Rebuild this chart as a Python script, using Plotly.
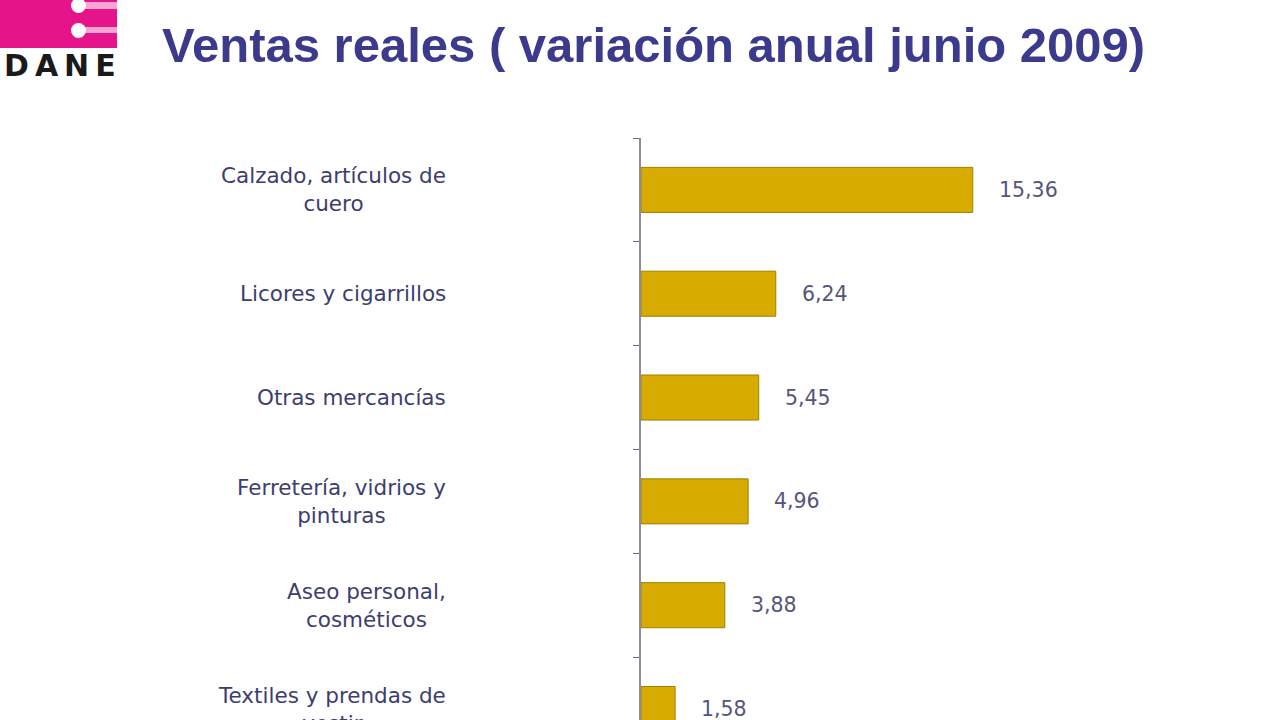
import plotly.graph_objects as go

# ---- data ----
categories = [
    "Calzado, artículos de<br>cuero",
    "Licores y cigarrillos",
    "Otras mercancías",
    "Ferretería, vidrios y<br>pinturas",
    "Aseo personal,<br>cosméticos",
    "Textiles y prendas de<br>vestir",
]
values = [15.36, 6.24, 5.45, 4.96, 3.88, 1.58]
title_text = "Ventas reales ( variación anual junio 2009)"
logo_text = "D\u2009A\u2009N\u2009E"

W, H = 1280, 720
ML, MR, MT, MB = 641, 39, 138, 0
PW, PH = W - ML - MR, H - MT - MB


def px2x(px):
    return (px - ML) / PW


def py2y(py):
    return (H - MB - py) / PH


fig = go.Figure()
fig.add_trace(go.Bar(
    x=values, y=categories, orientation="h",
    marker=dict(color="#d8ab00", line=dict(color="#a08000", width=1)),
    hoverinfo="x+y", showlegend=False,
))

annotations = []
# category labels (centre-aligned multi-line, right edge near x=447px)
for c in categories:
    annotations.append(dict(
        x=px2x(448), xref="paper", y=c, yref="y", text=c, showarrow=False,
        xanchor="right", yanchor="middle", align="center",
        font=dict(family="DejaVu Sans, Verdana, sans-serif", size=21.5, color="#3d3d70"),
    ))
# value labels
for c, v in zip(categories, values):
    annotations.append(dict(
        x=v, xref="x", y=c, yref="y", text=f"{v:.2f}".replace(".", ","),
        showarrow=False, xanchor="left", yanchor="middle", xshift=24,
        font=dict(family="DejaVu Sans, Verdana, sans-serif", size=20.5, color="#55557c"),
    ))
# logo text
annotations.append(dict(
    x=px2x(118), xref="paper", y=py2y(65), yref="paper", text=f"<b>{logo_text}</b>",
    showarrow=False, xanchor="right", yanchor="middle",
    font=dict(family="DejaVu Sans, sans-serif", size=30, color="#1a1a1a"),
))

shapes = [
    dict(type="rect", xref="paper", yref="paper", x0=px2x(-2), x1=px2x(117),
         y0=py2y(48), y1=py2y(-2), fillcolor="#e6148a", line=dict(width=0), layer="above"),
    dict(type="rect", xref="paper", yref="paper", x0=px2x(80), x1=px2x(117),
         y0=py2y(9), y1=py2y(2), fillcolor="#f7a6d4", line=dict(width=0), layer="above"),
    dict(type="rect", xref="paper", yref="paper", x0=px2x(80), x1=px2x(117),
         y0=py2y(33), y1=py2y(27), fillcolor="#f7a6d4", line=dict(width=0), layer="above"),
    dict(type="circle", xref="paper", yref="paper", x0=px2x(71), x1=px2x(86),
         y0=py2y(13), y1=py2y(-2), fillcolor="#ffffff", line=dict(width=0), layer="above"),
    dict(type="circle", xref="paper", yref="paper", x0=px2x(71), x1=px2x(86),
         y0=py2y(38), y1=py2y(23), fillcolor="#ffffff", line=dict(width=0), layer="above"),
]

fig.update_layout(
    width=W, height=H,
    margin=dict(l=ML, r=MR, t=MT, b=MB, pad=0),
    paper_bgcolor="#ffffff", plot_bgcolor="#ffffff",
    bargap=0.566,
    title=dict(
        text=f"<b>{title_text}</b>", xref="container", yref="container",
        x=162 / W, xanchor="left", y=1 - 45 / H, yanchor="middle",
        font=dict(family="Liberation Sans, Arial, sans-serif", size=49, color="#3c3a8c"),
    ),
    xaxis=dict(range=[0, PW / 21.6], visible=False, fixedrange=True),
    yaxis=dict(
        type="category", categoryorder="array", categoryarray=categories,
        range=[5.106, -0.5], showticklabels=False,
        showline=True, linecolor="#8c8c9c", linewidth=1.5,
        ticks="outside", tickson="boundaries", ticklen=6, tickcolor="#6c6c7c",
        showgrid=False, zeroline=False, fixedrange=True,
    ),
    yaxis2=dict(
        overlaying="y", side="left", range=[5.106, -0.5],
        tickvals=[0, 1, 2, 3, 4, 5], ticks="outside", ticklen=5, tickcolor="#6c6c7c",
        showticklabels=False, showline=False, showgrid=False, zeroline=False,
        fixedrange=True,
    ),
    annotations=annotations,
    shapes=shapes,
    showlegend=False,
)

fig.write_html(
    "out.html",
    config={"displayModeBar": False},
    post_script="document.body.style.margin='0';document.body.style.overflow='hidden';",
)
